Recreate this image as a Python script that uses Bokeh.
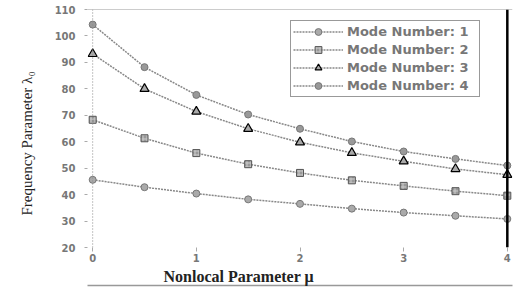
from bokeh.plotting import figure
from bokeh.models import Span, Title, Legend, LegendItem, FixedTicker, Range1d, LinearAxis
from bokeh.embed import file_html
from bokeh.resources import INLINE

# ---- data ----
mu = [0, 0.5, 1, 1.5, 2, 2.5, 3, 3.5, 4]
mode1 = [45.6, 42.8, 40.4, 38.2, 36.5, 34.7, 33.2, 32.0, 30.8]
mode2 = [68.3, 61.3, 55.7, 51.5, 48.2, 45.4, 43.3, 41.3, 39.6]
mode3 = [93.2, 80.0, 71.4, 64.9, 59.8, 55.8, 52.6, 49.7, 47.5]
mode4 = [104.3, 88.2, 77.7, 70.3, 64.9, 60.1, 56.3, 53.5, 51.0]
series_names = ["Mode Number: 1", "Mode Number: 2", "Mode Number: 3", "Mode Number: 4"]
x_ticks = [0, 1, 2, 3, 4]
y_ticks = [20, 30, 40, 50, 60, 70, 80, 90, 100, 110]

p = figure(width=515, height=291, output_backend="svg", toolbar_location=None,
           x_range=Range1d(-0.05, 4.05), y_range=Range1d(20, 110),
           min_border_left=87, min_border_right=3, min_border_top=9, min_border_bottom=44)
p.outline_line_color = None
p.xgrid.grid_line_color = None
p.ygrid.grid_line_color = None
p.background_fill_color = "white"

tick_font = "DejaVu Sans"
for ax in (p.xaxis[0], p.yaxis[0]):
    ax.axis_line_color = None
    ax.major_tick_in = 0
    ax.minor_tick_line_color = None
    ax.major_tick_line_color = "#aaaaaa"
    ax.major_label_text_font = tick_font
    ax.major_label_text_font_size = "10px"
    ax.major_label_text_font_style = "bold"
    ax.major_label_text_color = "#777777"
p.xaxis[0].ticker = FixedTicker(ticks=x_ticks)
p.yaxis[0].ticker = FixedTicker(ticks=y_ticks)
p.xaxis[0].major_tick_out = 4
p.xaxis[0].major_label_standoff = 2
p.yaxis[0].major_tick_out = 3
p.yaxis[0].major_label_standoff = 9

# frame decorations
p.add_layout(Span(location=0, dimension="height", line_color="#888888", line_dash="1 2", line_width=1))
p.add_layout(Span(location=110, dimension="width", line_color="#999999", line_width=1))
p.add_layout(Span(location=4, dimension="height", line_color="black", line_width=2.5))

line_kw = dict(line_color="#888888", line_dash="2 1", line_width=1.5)
series = [mode1, mode2, mode3, mode4]
marker_styles = [
    dict(marker="circle", size=7, fill_color="#aaaaaa", line_color="#777777"),
    dict(marker="square", size=7, fill_color="#999999", line_color="#555555",
         hatch_pattern="+", hatch_color="#cccccc", hatch_scale=4),
    dict(marker="triangle", size=9, fill_color="#aaaaaa", line_color="black", line_width=1.2),
    dict(marker="circle", size=7, fill_color="#999999", line_color="#777777"),
]
items = []
for name, ys, ms in zip(series_names, series, marker_styles):
    r_line = p.line(mu, ys, **line_kw)
    r_pts = p.scatter(mu, ys, **ms)
    items.append(LegendItem(label=name, renderers=[r_line, r_pts]))

legend = Legend(items=items, location=(203, 150), orientation="vertical",
                border_line_color="#333333", border_line_width=1.5,
                background_fill_color="white", background_fill_alpha=1,
                padding=2, spacing=1, margin=0,
                glyph_height=17, label_height=17, glyph_width=50, label_width=130,
                label_standoff=4,
                label_text_font=tick_font, label_text_font_size="13px",
                label_text_font_style="bold", label_text_color="#777777")
p.add_layout(legend, "center")

# axis titles
p.add_layout(Title(text="Nonlocal Parameter μ", align="left", offset=76, standoff=2,
                   text_font="Liberation Serif", text_font_size="16px",
                   text_font_style="bold", text_color="#222222"), "below")
p.add_layout(Title(text="Frequency Parameter λ₀", align="left", offset=32, standoff=33,
                   text_font="Liberation Serif", text_font_size="15px",
                   text_font_style="normal", text_color="#222222"), "left")

# thin grey separator line below the x title (axis line only, no ticks/labels)
sep_axis = LinearAxis(ticker=FixedTicker(ticks=[]), major_tick_in=0, major_tick_out=0,
                      minor_tick_in=0, minor_tick_out=0, major_label_standoff=0,
                      major_label_text_font_size="0px",
                      axis_line_color="#999999", axis_line_width=1.5)
p.add_layout(sep_axis, "below")

open("out.html", "w").write(file_html(p, INLINE))
